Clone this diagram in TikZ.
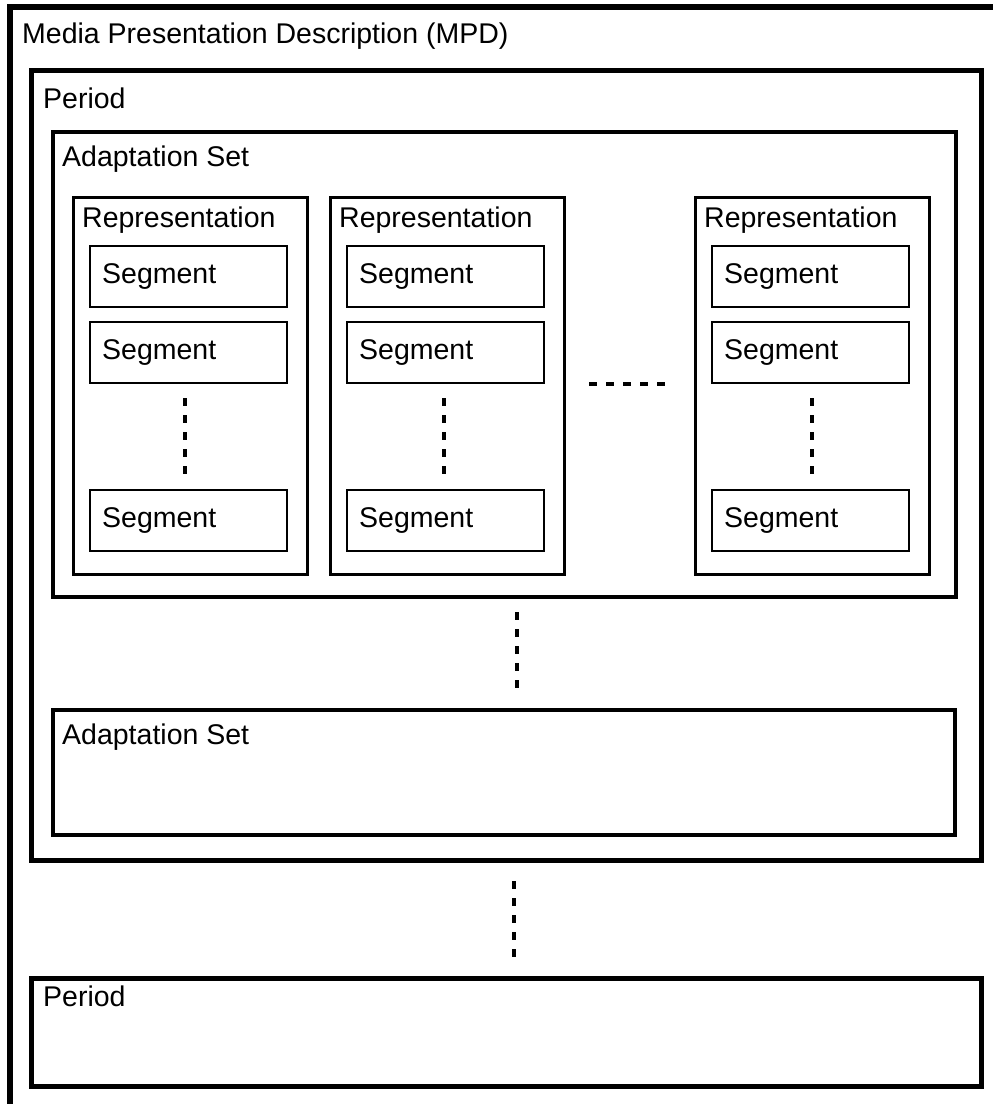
\documentclass[tikz,border=0pt]{standalone}
\usepackage{fontspec}
\setmainfont{Liberation Sans}
\begin{document}
\begin{tikzpicture}[x=1pt,y=-1pt,
  lbl/.style={anchor=base west,inner sep=0pt,font=\fontsize{28.5}{34}\selectfont},
  mpdbox/.style={draw=black,line width=5.5pt},
  perbox/.style={draw=black,line width=5pt},
  asbox/.style={draw=black,line width=4pt},
  repbox/.style={draw=black,line width=3pt},
  segbox/.style={draw=black,line width=1.8pt},
  dots/.style={draw=black,line width=3.5pt,dash pattern=on 8pt off 9pt}]
\useasboundingbox (0,0) rectangle (993,1104);
% MPD (cut off at right and bottom)
\draw[mpdbox] (10,1110) -- (10,7) -- (1000,7);
\node[lbl] (mpd) at (22,43) {Media Presentation Description (MPD)};
% Period 1
\draw[perbox] (31,70) rectangle (981,860);
\node[lbl] (per1) at (43,108) {Period};
% Adaptation Set 1
\draw[asbox] (53,132) rectangle (956,597);
\node[lbl] (as1) at (62,166) {Adaptation Set};
% Representations
\foreach \rx/\sx/\dx/\n in {73/90/185/1,330/347/444/2,695/712/812/3}{
  \draw[repbox] (\rx,197) rectangle ++(234,377);
  \node[lbl] (rep\n) at (\rx+9,227) {Representation};
  \draw[segbox] (\sx,246) rectangle ++(197,61);
  \node[lbl] (seg\n a) at (\sx+12,283) {Segment};
  \draw[segbox] (\sx,322) rectangle ++(197,61);
  \node[lbl] (seg\n b) at (\sx+12,359) {Segment};
  \draw[segbox] (\sx,490) rectangle ++(197,61);
  \node[lbl] (seg\n c) at (\sx+12,527) {Segment};
  \coordinate (d\n t) at (\dx,398);
  \coordinate (d\n b) at (\dx,475);
  \draw[dots] (d\n t) -- (d\n b);
}
\coordinate (hl) at (589,384);
\coordinate (hr) at (667,384);
\draw[dots] (hl) -- (hr);
% between adaptation sets
\coordinate (va1) at (517,612);
\coordinate (va2) at (517,691);
\draw[dots] (va1) -- (va2);
% Adaptation Set 2
\draw[asbox] (53,710) rectangle (955,835);
\node[lbl] (as2) at (62,744) {Adaptation Set};
% between periods
\coordinate (vp1) at (514,881);
\coordinate (vp2) at (514,959);
\draw[dots] (vp1) -- (vp2);
% Period 2
\draw[perbox] (31,978) rectangle (981,1086);
\node[lbl] (per2) at (43,1006) {Period};
\end{tikzpicture}
\end{document}
